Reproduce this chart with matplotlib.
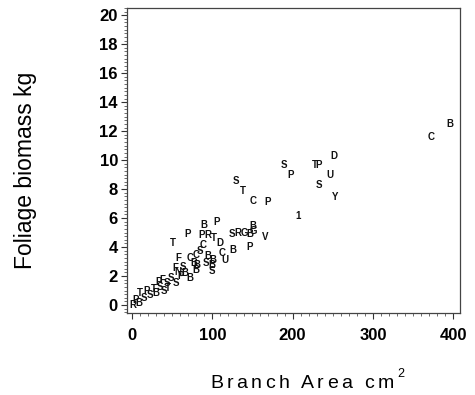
import matplotlib
matplotlib.use("Agg")
import matplotlib.pyplot as plt
from matplotlib.ticker import MultipleLocator
from matplotlib.font_manager import FontProperties

# ---- data ----
branch_area = [396, 373, 251, 189, 228, 233, 198, 246, 233, 253,
               129.5, 138.6, 151, 168.5, 207, 105.5, 89, 69, 51.4, 87,
               95, 102, 109, 125, 132.5, 140.5, 147, 150.5, 151, 165.6,
               88.8, 125.5, 146, 116, 85, 80, 95, 101, 100, 100,
               76.5, 81, 80, 72, 57.7, 53.5, 57, 63, 73, 49,
               43, 33, 35, 27, 18, 22, 10, 4, 8, 0.5,
               30, 40, 45, 55, 60, 15, 38, 66, 92, 112]
foliage = [12.5, 11.6, 10.3, 9.65, 9.65, 9.65, 9.0, 9.0, 8.3, 7.45,
           8.55, 7.9, 7.2, 7.1, 6.15, 5.75, 5.55, 4.9, 4.25, 4.85,
           4.85, 4.65, 4.25, 4.9, 4.95, 5.0, 4.9, 5.45, 5.1, 4.7,
           4.15, 3.8, 4.0, 3.1, 3.7, 3.45, 3.35, 3.1, 2.75, 2.35,
           2.9, 2.75, 2.45, 1.85, 3.25, 2.55, 2.3, 2.6, 3.25, 1.85,
           1.5, 1.6, 1.25, 1.1, 0.95, 0.7, 0.8, 0.35, 0.12, 0.0,
           0.8, 1.0, 1.2, 1.5, 2.0, 0.5, 1.7, 2.2, 2.9, 3.6]
codes = ['B', 'C', 'D', 'S', 'T', 'P', 'P', 'U', 'S', 'Y',
         'S', 'T', 'C', 'P', '1', 'P', 'B', 'P', 'T', 'P',
         'R', 'T', 'D', 'S', 'R', 'G', 'B', 'B', 'G', 'V',
         'C', 'B', 'P', 'U', 'S', 'C', 'B', 'B', 'B', 'S',
         'B', 'B', 'B', 'B', 'F', 'F', 'N', 'S', 'C', 'S',
         'S', 'P', 'S', 'T', 'P', 'S', 'T', 'P', 'B', 'R',
         'B', 'S', 'T', 'S', 'P', 'S', 'F', 'B', 'S', 'C']

x_ticks = [0, 100, 200, 300, 400]
y_ticks = [0, 2, 4, 6, 8, 10, 12, 14, 16, 18, 20]
x_label = "Branch Area cm"
x_label_sup = "2"
y_label = "Foliage biomass kg"

W, H = 475, 395
fig = plt.figure(figsize=(W / 100, H / 100), dpi=100)
ax = fig.add_axes([127 / W, 1 - 313 / H, (460 - 127) / W, (313 - 8) / H])

for xv, yv, c in zip(branch_area, foliage, codes):
    ax.text(xv, yv, c, ha='center', va='center', fontsize=7,
            family='Liberation Sans', weight='bold', color='#111111')

ax.set_xlim(-6.2, 408.5)
ax.set_ylim(-0.55, 20.5)
ax.set_xticks(x_ticks)
ax.set_yticks(y_ticks)
ax.xaxis.set_minor_locator(MultipleLocator(10))
ax.yaxis.set_minor_locator(MultipleLocator(0.25))
tick_fp = dict(family='Liberation Sans', weight='bold', size=12)
ax.set_xticklabels([str(t) for t in x_ticks], fontdict=tick_fp)
ax.set_yticklabels([str(t) for t in y_ticks], fontdict=tick_fp)
ax.tick_params(axis='both', which='major', direction='out', length=4,
               width=0.8, color='#333333')
ax.tick_params(axis='both', which='minor', direction='out', length=2.2,
               width=0.6, color='#555555')
ax.tick_params(axis='x', which='major', pad=7)
ax.tick_params(axis='y', which='major', pad=2.5)
for sp in ax.spines.values():
    sp.set_color('#444444')
    sp.set_linewidth(0.9)

# y label
fig.text(26 / W, 1 - 170 / H, y_label, rotation=90, ha='center', va='center',
         family='Liberation Sans', fontsize=16.5)

# x label with letter spacing
fp = FontProperties(family='Liberation Sans', size=14)
fp_sup = FontProperties(family='Liberation Sans', size=9)
renderer = fig.canvas.get_renderer()


def text_w(s, prop):
    t = fig.text(0, 0, s, fontproperties=prop)
    w = t.get_window_extent(renderer).width
    t.remove()
    return w


xw = text_w('x', fp)
spacing = 3.4
n = len(x_label)
natural = text_w(x_label, fp)
sup_w = text_w(x_label_sup, fp_sup)
total = natural + (n - 1) * spacing + spacing + sup_w
start = 307 - total / 2
baseline = 1 - 388 / H
for i, ch in enumerate(x_label):
    pre = x_label[:i]
    off = (text_w(pre + 'x', fp) - xw) if i > 0 else 0
    fig.text((start + off + i * spacing) / W, baseline, ch, fontproperties=fp,
             ha='left', va='baseline')
sup_x = start + natural + n * spacing
fig.text(sup_x / W, 1 - 377 / H, x_label_sup, fontproperties=fp_sup,
         ha='left', va='baseline')

fig.savefig('out.png', dpi=100)
